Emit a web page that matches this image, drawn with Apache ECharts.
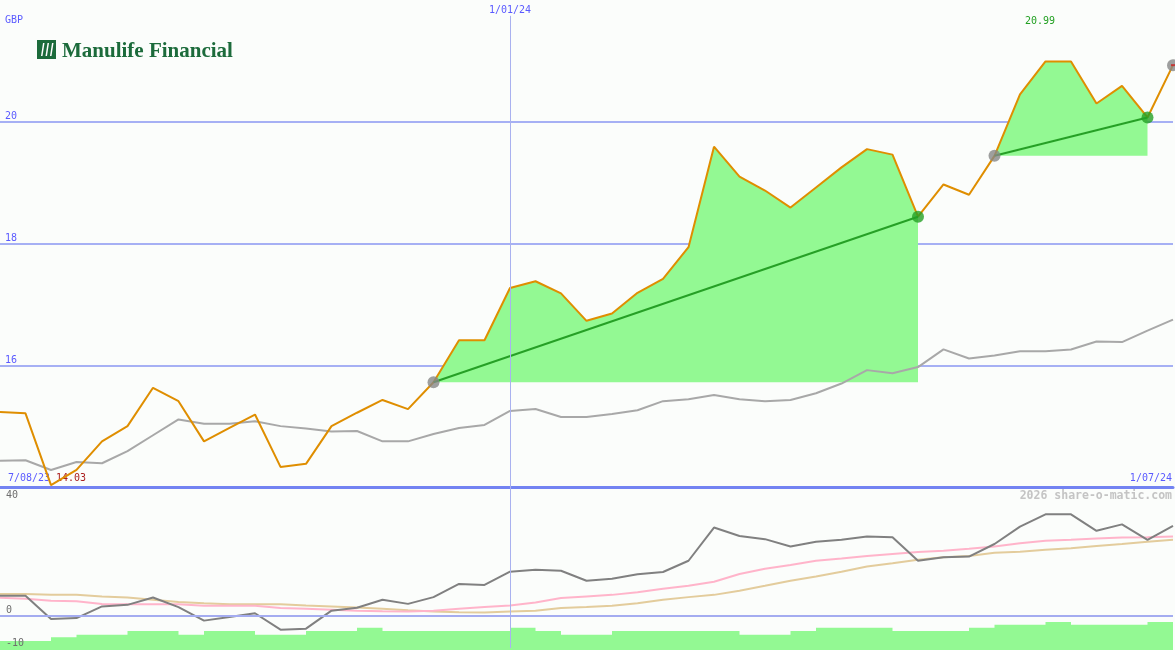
<!DOCTYPE html>
<html>
<head>
<meta charset="utf-8">
<script src="https://cdn.jsdelivr.net/npm/echarts@6/dist/echarts.min.js"></script>
<style>
html,body{margin:0;padding:0;background:#fbfdfb;}
#chart{width:1175px;height:650px;}
</style>
</head>
<body>
<div id="chart"></div>
<script>
// ---- data ----
const dates = ['14/08/23','21/08/23','28/08/23','4/09/23','11/09/23','18/09/23','25/09/23','2/10/23','9/10/23','16/10/23','23/10/23','30/10/23','6/11/23','13/11/23','20/11/23','27/11/23','4/12/23','11/12/23','18/12/23','25/12/23','1/01/24','8/01/24','15/01/24','22/01/24','29/01/24','5/02/24','12/02/24','19/02/24','26/02/24','4/03/24','11/03/24','18/03/24','25/03/24','1/04/24','8/04/24','15/04/24','22/04/24','29/04/24','6/05/24','13/05/24','20/05/24','27/05/24','3/06/24','10/06/24','17/06/24','24/06/24','1/07/24'];
const price = [15.23,15.21,14.03,14.28,14.75,15.00,15.63,15.41,14.75,14.97,15.19,14.33,14.38,15.00,15.22,15.43,15.28,15.72,16.41,16.41,17.27,17.38,17.18,16.73,16.85,17.19,17.42,17.94,19.59,19.10,18.87,18.59,18.92,19.25,19.55,19.46,18.44,18.97,18.80,19.44,20.45,20.99,20.99,20.30,20.59,20.07,20.93];
const priceMA = [14.43,14.44,14.28,14.41,14.39,14.59,14.85,15.11,15.04,15.04,15.08,15.00,14.96,14.91,14.92,14.75,14.75,14.87,14.97,15.02,15.25,15.28,15.15,15.15,15.20,15.26,15.41,15.44,15.51,15.44,15.41,15.43,15.54,15.70,15.92,15.87,15.97,16.26,16.11,16.16,16.23,16.23,16.26,16.39,16.38,16.57,16.75];
const osc = [6.2,6.2,-1.0,-0.7,2.9,3.4,5.7,2.7,-1.5,-0.4,0.8,-4.3,-4.0,1.6,2.5,5.0,3.7,5.8,9.9,9.6,13.7,14.3,14.0,10.9,11.5,12.9,13.6,17.1,27.4,24.8,23.8,21.5,23.0,23.6,24.6,24.4,17.1,18.2,18.4,22.3,27.7,31.5,31.5,26.4,28.4,23.6,27.9];
const oscPink = [5.6,5.3,4.7,4.5,3.7,3.6,3.6,3.6,3.1,3.1,3.1,2.4,2.2,1.9,1.6,1.4,1.3,1.6,2.2,2.7,3.2,4.1,5.5,6.0,6.5,7.3,8.4,9.3,10.6,13.0,14.6,15.8,17.1,17.8,18.6,19.2,19.8,20.2,20.8,21.5,22.5,23.3,23.6,24.0,24.3,24.4,24.6];
const oscTan = [6.8,6.8,6.5,6.5,6.0,5.7,5.0,4.3,3.9,3.6,3.6,3.6,3.2,2.9,2.6,2.2,1.7,1.3,1.1,1.0,1.3,1.6,2.4,2.7,3.1,3.9,5.0,5.8,6.5,7.8,9.3,10.9,12.2,13.7,15.3,16.3,17.4,18.2,18.6,19.6,19.9,20.5,21.0,21.7,22.3,23.0,23.6];
const volume = [-7.8,-7.8,-6.7,-5.9,-5.9,-4.7,-4.7,-5.9,-4.7,-4.7,-5.9,-5.9,-4.7,-4.7,-3.7,-4.7,-4.7,-4.7,-4.7,-4.7,-3.7,-4.7,-5.9,-5.9,-4.7,-4.7,-4.7,-4.7,-4.7,-5.9,-5.9,-4.7,-3.7,-3.7,-3.7,-4.7,-4.7,-4.7,-3.7,-2.8,-2.8,-1.9,-2.8,-2.8,-2.8,-1.9,-1.9];
const trades = [[17,36],[39,45]];
const openTrade = 46;
const priceTicks = [16,18,20];
const oscTicksBelow = [0,-10];
const oscTicksAbove = [40];
const markerDate = '1/01/24';
const startLabel = '7/08/23';
const endLabel = '1/07/24';

// ---- helpers ----
const MONO = 'DejaVu Sans Mono';
const BLUE = '#5a5aff';
function segment(a, b) { return price.map((v,i) => (i>=a && i<=b) ? v : null); }
function ends(a, b) { return price.map((v,i) => (i===a || i===b) ? v : null); }

const series = [];
// vertical date line (under everything)
series.push({
  type:'line', xAxisIndex:0, yAxisIndex:0, data: price.map(()=>null), z:0, silent:true,
  markLine:{ symbol:'none', silent:true, animation:false,
    lineStyle:{color:'#a9b1ef', width:1, type:'solid'},
    label:{show:true, position:'start', distance:0, formatter: markerDate, color:BLUE, fontFamily:MONO, fontSize:10},
    data:[[{coord:[markerDate, 21.74]},{coord:[markerDate, 14]}]] }
});
series.push({
  type:'line', xAxisIndex:1, yAxisIndex:1, data: osc.map(()=>null), z:0, silent:true,
  markLine:{ symbol:'none', silent:true, animation:false, label:{show:false},
    data:[
      [{coord:[markerDate, 40], lineStyle:{color:'#a9b1ef', width:1, type:'solid'}},{coord:[markerDate, -10]}],
      {yAxis:0, lineStyle:{color:'#a4acf0', width:2, type:'solid'}}
    ] }
});
// trade fills
trades.forEach(([a,b]) => {
  series.push({
    type:'line', xAxisIndex:0, yAxisIndex:0, data: segment(a,b), symbol:'none', z:1,
    lineStyle:{width:0, opacity:0},
    areaStyle:{color:'#93f993', opacity:1, origin: price[a]}
  });
});
// moving average (top)
series.push({type:'line', xAxisIndex:0, yAxisIndex:0, data: priceMA, symbol:'none', z:2,
  lineStyle:{color:'#a8a8a8', width:2}});
// price
series.push({type:'line', xAxisIndex:0, yAxisIndex:0, data: price, symbol:'none', z:3,
  lineStyle:{color:'#df8e00', width:2}});
// trade lines
trades.forEach(([a,b]) => {
  series.push({type:'line', xAxisIndex:0, yAxisIndex:0, data: ends(a,b), connectNulls:true, symbol:'none', z:4,
    lineStyle:{color:'#26a026', width:2}});
});
// markers
const startIdx = trades.map(t=>t[0]).concat([openTrade]);
const endIdx = trades.map(t=>t[1]);
series.push({type:'scatter', xAxisIndex:0, yAxisIndex:0, z:5, clip:false, symbolSize:12,
  itemStyle:{color:'#878787'}, data: startIdx.map(i=>[dates[i], price[i]])});
series.push({type:'scatter', xAxisIndex:0, yAxisIndex:0, z:5, clip:false, symbolSize:12,
  itemStyle:{color:'#24a024'}, data: endIdx.map(i=>[dates[i], price[i]])});
series.push({type:'scatter', xAxisIndex:0, yAxisIndex:0, z:6, clip:false, symbol:'rect', symbolSize:[4,2],
  itemStyle:{color:'#cc2222'}, data: [[dates[openTrade], price[openTrade]]]});
// bottom panel
series.push({type:'line', xAxisIndex:1, yAxisIndex:1, data: oscTan, symbol:'none', z:2,
  lineStyle:{color:'#e3cc9c', width:2}});
series.push({type:'line', xAxisIndex:1, yAxisIndex:1, data: oscPink, symbol:'none', z:2,
  lineStyle:{color:'#ffb4ca', width:2}});
series.push({type:'line', xAxisIndex:1, yAxisIndex:1, data: osc, symbol:'none', z:3,
  lineStyle:{color:'#808080', width:2}});
series.push({type:'line', xAxisIndex:1, yAxisIndex:1, data: volume, symbol:'none', z:4, step:'end', clip:false,
  lineStyle:{width:0, opacity:0},
  areaStyle:{color:'#93f993', opacity:1, origin:-10.7}});

const maxP = Math.max(...price).toFixed(2);
const minP = Math.min(...price).toFixed(2);

const option = {
  backgroundColor:'#fbfdfb',
  animation:false,
  grid:[
    {left:0, right:2, top:0, height:487},
    {left:0, right:2, top:487, height:161}
  ],
  xAxis:[
    {type:'category', gridIndex:0, data:dates, boundaryGap:false,
      axisLine:{show:true, lineStyle:{color:'#7383f2', width:3}}, axisTick:{show:false}, axisLabel:{show:false}, splitLine:{show:false}},
    {type:'category', gridIndex:1, data:dates, boundaryGap:false,
      axisLine:{show:false}, axisTick:{show:false}, axisLabel:{show:false}, splitLine:{show:false}}
  ],
  yAxis:[
    {type:'value', gridIndex:0, min:14, max:22, interval:2,
      axisLine:{show:false}, axisTick:{show:false},
      axisLabel:{inside:true, margin:5, verticalAlign:'bottom', color:BLUE, fontFamily:MONO, fontSize:10,
        formatter: v => priceTicks.includes(v) ? String(v) : ''},
      splitLine:{show:true, showMinLine:false, showMaxLine:false, lineStyle:{color:'#a6b0f4', width:2}}},
    {type:'value', gridIndex:1, min:-10, max:40, interval:10, position:'left', z:10,
      axisLine:{show:false}, axisTick:{show:false}, splitLine:{show:false},
      axisLabel:{inside:true, margin:6, verticalAlign:'bottom', color:'#6e6e6e', fontFamily:MONO, fontSize:10,
        formatter: v => oscTicksBelow.includes(v) ? String(v) : ''}},
    {type:'value', gridIndex:1, min:-10, max:40, interval:10, position:'left', offset:0, z:10,
      axisLine:{show:false}, axisTick:{show:false}, splitLine:{show:false},
      axisLabel:{inside:true, margin:6, verticalAlign:'top', padding:[3,0,0,0], color:'#6e6e6e', fontFamily:MONO, fontSize:10,
        formatter: v => oscTicksAbove.includes(v) ? String(v) : ''}}
  ],
  series: series,
  graphic:[
    {type:'text', x:5, y:20, style:{text:'GBP', fill:BLUE, font:'10px "DejaVu Sans Mono"', align:'left', verticalAlign:'middle', textAlign:'left', textVerticalAlign:'middle'}},
    {type:'text', x:1040, y:21, style:{text:maxP, fill:'#22a022', font:'10px "DejaVu Sans Mono"', align:'center', verticalAlign:'middle', textAlign:'center', textVerticalAlign:'middle'}},
    {type:'text', x:8, y:478, style:{text:startLabel, fill:BLUE, font:'10px "DejaVu Sans Mono"', align:'left', verticalAlign:'middle', textAlign:'left', textVerticalAlign:'middle'}},
    {type:'text', x:56, y:478, style:{text:minP, fill:'#aa2020', font:'10px "DejaVu Sans Mono"', align:'left', verticalAlign:'middle', textAlign:'left', textVerticalAlign:'middle'}},
    {type:'text', x:1172, y:478, style:{text:endLabel, fill:BLUE, font:'10px "DejaVu Sans Mono"', align:'right', verticalAlign:'middle', textAlign:'right', textVerticalAlign:'middle'}},
    {type:'text', x:1172, y:496, style:{text:'2026 share-o-matic.com', fill:'#c4c4c4', font:'bold 11.5px "DejaVu Sans Mono"', align:'right', verticalAlign:'middle', textAlign:'right', textVerticalAlign:'middle'}},
    // logo
    {type:'rect', shape:{x:37, y:40, width:19, height:19}, style:{fill:'#1c6b3b'}},
    {type:'polygon', shape:{points:[[41,56],[43,43],[44.5,43],[42.5,56]]}, style:{fill:'#ffffff'}},
    {type:'polygon', shape:{points:[[45.5,56],[47.5,43],[49,43],[47,56]]}, style:{fill:'#ffffff'}},
    {type:'polygon', shape:{points:[[50,56],[52,43],[53.5,43],[51.5,56]]}, style:{fill:'#ffffff'}},
    {type:'text', x:62, y:52, style:{text:'Manulife Financial', fill:'#1c6b3b', font:'bold 21px "Liberation Serif"', align:'left', verticalAlign:'middle', textAlign:'left', textVerticalAlign:'middle'}}
  ]
};

const chart = echarts.init(document.getElementById('chart'), null, {renderer:'canvas'});
chart.setOption(option);
</script>
</body>
</html>
